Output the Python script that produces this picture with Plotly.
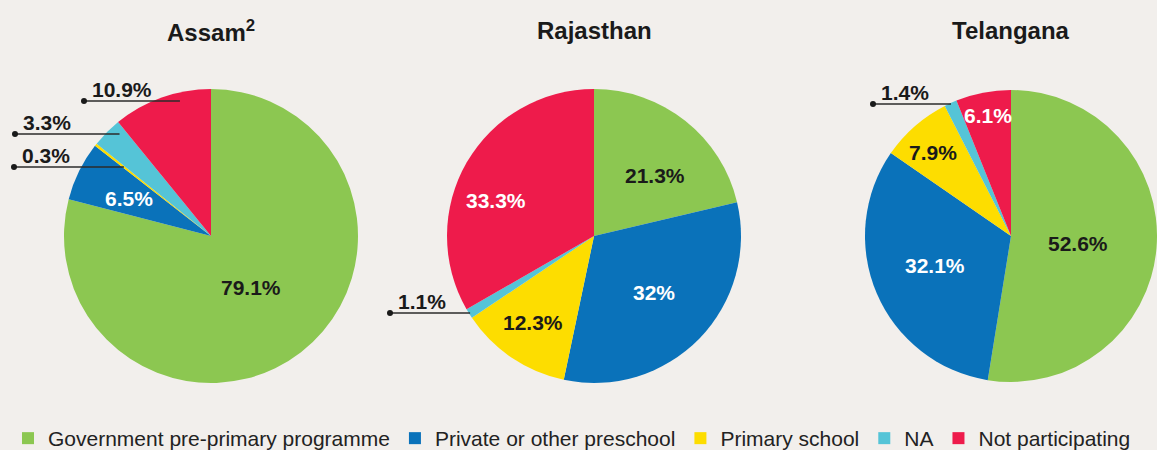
import math
import plotly.graph_objects as go

# ---------------- data ----------------
CATEGORIES = [
    "Government pre-primary programme",
    "Private or other preschool",
    "Primary school",
    "NA",
    "Not participating",
]
STATES = ["Assam", "Rajasthan", "Telangana"]
TITLES = ["Assam<sup>2</sup>", "Rajasthan", "Telangana"]
ASSAM = [79.1, 6.5, 0.3, 3.3, 10.9]
RAJASTHAN = [21.3, 32, 12.3, 1.1, 33.3]
TELANGANA = [52.6, 32.1, 7.9, 1.4, 6.1]
VALUES = {"Assam": ASSAM, "Rajasthan": RAJASTHAN, "Telangana": TELANGANA}

# ---------------- style / layout ----------------
W, H = 1157, 450
BG = "#f2efec"
COLORS = ["#8cc751", "#0a72ba", "#fddd00", "#55c4d7", "#ee1b4b"]
TEXT_ON = ["#1a1a1a", "#ffffff", "#1a1a1a", "#1a1a1a", "#ffffff"]
DARK = "#1a1a1a"
FONT = "Liberation Sans, Arial, sans-serif"

# pie boxes in pixels (left, right, top, bottom)
PIE_BOX = {
    "Assam": (64, 358, 89, 383),
    "Rajasthan": (447, 741, 89, 383),
    "Telangana": (865, 1157, 90, 382),
}
TITLE_Y = 30.5

# inside label placement: category index -> (radius fraction, angle shift in deg)
INSIDE = {
    "Assam": {0: (0.44, 0), 1: (0.615, -1.6)},
    "Rajasthan": {0: (0.584, 6.5), 1: (0.563, -0.8), 2: (0.72, 1), 4: (0.71, -9.9)},
    "Telangana": {0: (0.46, 2.1), 1: (0.56, 1.6), 2: (0.78, -2), 4: (0.84, 0)},
}
# outside labels: category index -> (leader line y px, dot x px, overshoot px)
OUTSIDE = {
    "Assam": {4: (101, 84, 17), 3: (134, 15, 11), 2: (167, 14, 0)},
    "Rajasthan": {3: (313, 390, 0)},
    "Telangana": {3: (104, 873, 0)},
}


def px(x):
    return x / W


def py(y):
    return 1 - y / H


fig = go.Figure()
annotations = []
shapes = []

for state, title in zip(STATES, TITLES):
    vals = VALUES[state]
    l, r, t, b = PIE_BOX[state]
    fig.add_trace(go.Pie(
        labels=CATEGORIES,
        values=vals,
        name=state,
        sort=False,
        direction="clockwise",
        rotation=0,
        textinfo="none",
        marker=dict(colors=COLORS, line=dict(width=0)),
        domain=dict(x=[px(l), px(r)], y=[py(b), py(t)]),
        hovertemplate="%{label}: %{value}%<extra>" + state + "</extra>",
    ))
    cx, cy = (l + r) / 2, (t + b) / 2
    R = min(r - l, b - t) / 2
    total = sum(vals)

    # title
    annotations.append(dict(
        x=px(cx), y=py(TITLE_Y), xref="paper", yref="paper",
        text=f"<b>{title}</b>", showarrow=False,
        xanchor="center", yanchor="middle",
        font=dict(family=FONT, size=24, color=DARK),
    ))

    cum = 0.0
    for i, v in enumerate(vals):
        mid = (cum + v / 2) / total * 2 * math.pi
        cum += v
        label = f"<b>{v:g}%</b>"
        if i in INSIDE[state]:
            frac, dth = INSIDE[state][i]
            th = mid + math.radians(dth)
            lx = cx + frac * R * math.sin(th)
            ly = cy - frac * R * math.cos(th)
            annotations.append(dict(
                x=px(lx), y=py(ly), xref="paper", yref="paper",
                text=label, showarrow=False,
                xanchor="center", yanchor="middle",
                font=dict(family=FONT, size=21, color=TEXT_ON[i]),
            ))
        elif i in OUTSIDE[state]:
            ly, dotx, over = OUTSIDE[state][i]
            tt = (cy - ly) / math.cos(mid)
            xend = cx + tt * math.sin(mid) + over
            shapes.append(dict(
                type="line", xref="paper", yref="paper",
                x0=px(dotx), x1=px(xend), y0=py(ly), y1=py(ly),
                line=dict(color="#2b2b2b", width=1.5),
            ))
            shapes.append(dict(
                type="circle", xref="paper", yref="paper",
                x0=px(dotx - 3), x1=px(dotx + 3), y0=py(ly + 3), y1=py(ly - 3),
                fillcolor=DARK, line=dict(width=0),
            ))
            annotations.append(dict(
                x=px(dotx + 6), y=py(ly - 11.5), xref="paper", yref="paper",
                text=label, showarrow=False,
                xanchor="left", yanchor="middle",
                font=dict(family=FONT, size=21, color=DARK),
            ))

fig.update_layout(
    width=W, height=H,
    margin=dict(l=0, r=0, t=0, b=0, autoexpand=False),
    paper_bgcolor=BG, plot_bgcolor=BG,
    showlegend=True,
    legend=dict(
        orientation="h", x=px(8), xanchor="left",
        y=py(438.5), yanchor="middle",
        font=dict(family=FONT, size=21, color="#222222"),
        bgcolor="rgba(0,0,0,0)", traceorder="normal",
    ),
    annotations=annotations,
    shapes=shapes,
)

fig.write_html(
    "out.html",
    config={"displayModeBar": False},
    post_script="document.body.style.margin='0';document.body.style.overflow='hidden';"
                "document.body.style.background='" + BG + "';",
)
